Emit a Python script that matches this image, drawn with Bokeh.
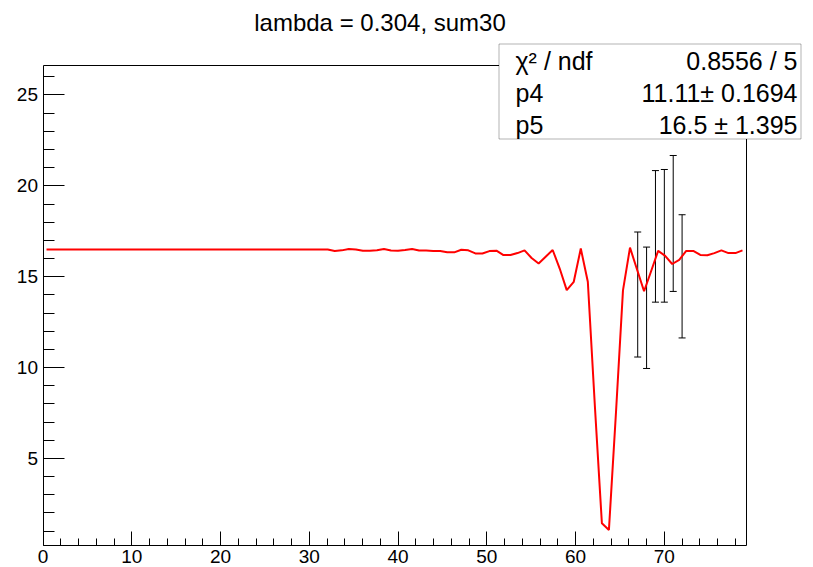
from bokeh.plotting import figure
from bokeh.models import (Range1d, SingleIntervalTicker, LinearAxis, Label, BoxAnnotation,
                          Whisker, ColumnDataSource, TeeHead, FixedTicker)
from bokeh.embed import file_html
from bokeh.resources import INLINE

# ---------------- data ----------------
title_text = "lambda = 0.304, sum30"

# histogram-like curve: 100 bins over [0, 79.2], value at each bin centre
hist_xmin = 0.0
hist_xmax = 79.2
hist_values = [
    16.5, 16.5, 16.5, 16.5, 16.5, 16.5, 16.5, 16.5, 16.5, 16.5,
    16.5, 16.5, 16.5, 16.5, 16.5, 16.5, 16.5, 16.5, 16.5, 16.5,
    16.5, 16.5, 16.5, 16.5, 16.5, 16.5, 16.5, 16.5, 16.5, 16.5,
    16.5, 16.5, 16.5, 16.5, 16.5, 16.5, 16.5, 16.5, 16.5, 16.5,
    16.5, 16.42, 16.45, 16.53, 16.5, 16.43, 16.43, 16.46, 16.52, 16.44,
    16.43, 16.47, 16.52, 16.44, 16.44, 16.42, 16.41, 16.34, 16.34, 16.48,
    16.45, 16.28, 16.28, 16.41, 16.43, 16.19, 16.19, 16.3, 16.45, 16.03,
    15.73, 16.1, 16.47, 15.45, 14.26, 14.72, 16.55, 14.72, 7.9, 1.43,
    1.06, 7.5, 14.25, 16.6, 15.4, 14.2, 15.3, 16.42, 16.15, 15.7,
    15.93, 16.42, 16.42, 16.2, 16.18, 16.3, 16.45, 16.3, 16.3, 16.45,
]

# points with error bars
err_x = [67, 68, 69, 70, 71, 72]
err_y = [14.02, 13.29, 17.22, 17.25, 17.93, 15.02]
err_e = [3.44, 3.34, 3.62, 3.65, 3.74, 3.39]

# fit statistics box
stat_names = ["\u03c7\u00b2 / ndf", "p4", "p5"]
stat_values = ["0.8556 / 5", "11.11\u00b1 0.1694", "16.5 \u00b1 1.395"]

# axis ranges / ticks
axis_x = (0.0, 79.2)
axis_y = (0.236, 26.65)

# ---------------- layout ----------------
W, H = 813, 567
L, R, T, B = 42.5, 745.5, 64.5, 544.5  # ROOT frame in pixels
FONT = "Liberation Sans"

sx = (R - L) / (axis_x[1] - axis_x[0])
sy = (B - T) / (axis_y[1] - axis_y[0])

def px2x(px):
    return axis_x[0] + (px - L) / sx

def py2y(py):
    return axis_y[0] + (B - py) / sy

n = len(hist_values)
bw = (hist_xmax - hist_xmin) / n
hist_x = [hist_xmin + (i + 0.5) * bw for i in range(n)]

# the bokeh frame fills the whole canvas; the ROOT frame is drawn with fixed-location axes
p = figure(width=W, height=H, output_backend="svg", toolbar_location=None, title=None,
           x_range=Range1d(px2x(0), px2x(W)), y_range=Range1d(py2y(H), py2y(0)),
           x_axis_type=None, y_axis_type=None,
           min_border_left=0, min_border_right=0, min_border_top=0, min_border_bottom=0)
p.background_fill_color = "white"
p.border_fill_color = "white"
p.outline_line_color = None
p.grid.visible = False

xa = LinearAxis(ticker=SingleIntervalTicker(interval=10, num_minor_ticks=5),
                fixed_location=axis_y[0], bounds=axis_x,
                major_tick_in=14, major_tick_out=0, minor_tick_in=7, minor_tick_out=0,
                major_label_standoff=5, major_label_text_font=FONT,
                major_label_text_font_size="19px", major_label_text_color="black",
                axis_line_color="black", major_tick_line_color="black",
                minor_tick_line_color="black")
p.add_layout(xa, "below")

ya = LinearAxis(ticker=SingleIntervalTicker(interval=5, num_minor_ticks=5),
                fixed_location=axis_x[0], bounds=axis_y,
                major_tick_in=21, major_tick_out=0, minor_tick_in=11, minor_tick_out=0,
                major_label_standoff=5, major_label_text_font=FONT,
                major_label_text_font_size="19px", major_label_text_color="black",
                axis_line_color="black", major_tick_line_color="black",
                minor_tick_line_color="black")
p.add_layout(ya, "left")

top_ax = LinearAxis(ticker=FixedTicker(ticks=[]), fixed_location=axis_y[1], bounds=axis_x,
                    major_label_text_font_size="0px", major_tick_in=0, major_tick_out=0,
                    minor_tick_in=0, minor_tick_out=0, axis_line_color="black")
p.add_layout(top_ax, "above")
right_ax = LinearAxis(ticker=FixedTicker(ticks=[]), fixed_location=axis_x[1], bounds=axis_y,
                      major_label_text_font_size="0px", major_tick_in=0, major_tick_out=0,
                      minor_tick_in=0, minor_tick_out=0, axis_line_color="black")
p.add_layout(right_ax, "right")

# curve
p.line(hist_x, hist_values, line_color="#ff0000", line_width=2)

# error bars
src = ColumnDataSource(dict(x=err_x,
                            lo=[y - e for y, e in zip(err_y, err_e)],
                            hi=[y + e for y, e in zip(err_y, err_e)]))
wh = Whisker(source=src, base="x", lower="lo", upper="hi", line_color="black", line_width=1,
             upper_head=TeeHead(size=7, line_color="black", line_width=1),
             lower_head=TeeHead(size=7, line_color="black", line_width=1))
p.add_layout(wh)

# title
p.add_layout(Label(x=px2x(379.5), y=py2y(22), text=title_text, text_align="center",
                   text_baseline="middle", text_font=FONT, text_font_size="24px",
                   text_color="black"))

# stats box
box = BoxAnnotation(left=px2x(498.5), right=px2x(800.5), top=py2y(43.5), bottom=py2y(138.5),
                    fill_color="white", fill_alpha=1.0, line_color="black", line_width=1)
p.add_layout(box)
row_y = [60.5, 92.5, 124]
for name, val, ry in zip(stat_names, stat_values, row_y):
    p.add_layout(Label(x=px2x(515), y=py2y(ry), text=name, text_align="left",
                       text_baseline="middle", text_font=FONT, text_font_size="25px",
                       text_color="black"))
    p.add_layout(Label(x=px2x(797), y=py2y(ry), text=val, text_align="right",
                       text_baseline="middle", text_font=FONT, text_font_size="25px",
                       text_color="black"))

open("out.html", "w").write(file_html(p, INLINE))
